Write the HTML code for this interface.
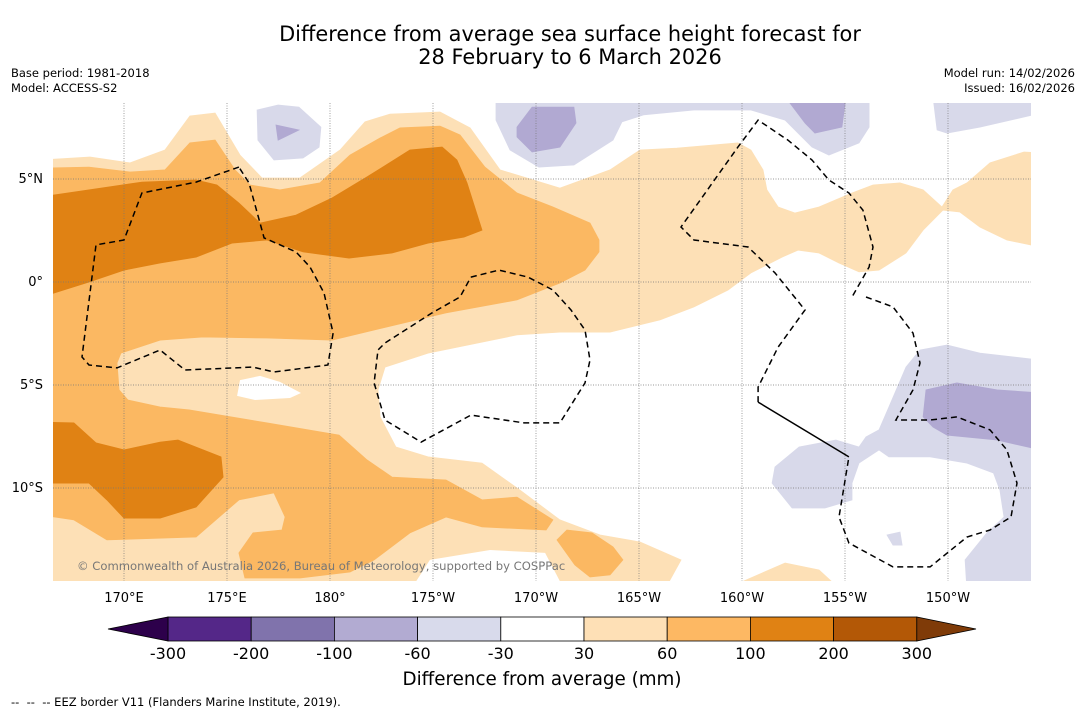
<!DOCTYPE html>
<html><head><meta charset="utf-8"><style>
body{margin:0;background:#fff;width:1085px;height:713px;overflow:hidden;font-family:"DejaVu Sans","Liberation Sans",sans-serif;}
svg{position:absolute;left:0;top:0}
</style></head><body>
<svg id="chart" width="1085" height="713" viewBox="0 0 1085 713" font-family="DejaVu Sans, Liberation Sans, sans-serif">
<defs><clipPath id="mapclip"><rect x="53" y="103" width="978" height="478"/></clipPath></defs>
<text x="570" y="41" text-anchor="middle" font-size="20.9">Difference from average sea surface height forecast for</text>
<text x="570" y="64" text-anchor="middle" font-size="20.9">28 February to 6 March 2026</text>
<text x="11" y="77" font-size="11.5">Base period: 1981-2018</text>
<text x="11" y="92" font-size="11.5">Model: ACCESS-S2</text>
<text x="1075" y="77" font-size="11.5" text-anchor="end">Model run: 14/02/2026</text>
<text x="1075" y="92" font-size="11.5" text-anchor="end">Issued: 16/02/2026</text>
<g id="map" clip-path="url(#mapclip)"></g>
<g id="axes"></g>
<g id="cbar"></g>
<text x="542" y="685" text-anchor="middle" font-size="18.3">Difference from average (mm)</text>
<text x="11" y="706" font-size="11.5" xml:space="preserve">--  --  -- EEZ border V11 (Flanders Marine Institute, 2019).</text>
</svg>
<script>
// ---- data ----
const latTicks=[5,0,-5,-10];
const latLabels=["5°N","0°","5°S","10°S"];
const lonTicks=[170,175,180,185,190,195,200,205,210];
const lonLabels=["170°E","175°E","180°","175°W","170°W","165°W","160°W","155°W","150°W"];
const cbTicks=["-300","-200","-100","-60","-30","30","60","100","200","300"];
const cbColors=["#542788","#8073ac","#b2abd2","#d8daeb","#ffffff","#fee0b6","#fdb863","#e08214","#b35806"];
const cbLow="#2d004b", cbHigh="#7f3b08";
const LO="#fde0b6",OR="#fbb862",DO="#e08214",LP="#d8d9ea",DP="#b1a9d2",WH="#ffffff";
const lightOrange=[[166,5.92],[168.35,6.07],[170.29,5.78],[171.99,6.41],[173.2,8.06],[174.42,8.2],[175.63,6.16],[176.7,5.05],[178.54,5.05],[180.49,6.41],[181.7,7.77],[182.91,8.15],[185.34,8.25],[186.8,7.48],[188.25,5.44],[191.16,4.56],[193.59,5.44],[195.05,6.41],[196.84,6.5],[199.8,6.75],[200.43,6.41],[201.02,5.44],[201.21,4.47],[201.75,3.64],[202.57,3.35],[203.74,3.64],[205.34,4.32],[206.36,4.71],[207.67,4.81],[208.79,4.47],[209.71,3.64],[210.24,4.47],[210.92,4.81],[212.04,5.78],[213.69,6.31],[214.5,6.26],[214.5,1.7],[212.86,2.04],[211.55,2.67],[210.58,3.4],[209.75,3.49],[208.79,2.52],[207.96,1.41],[206.65,0.58],[205.68,0.49],[204.71,0.92],[203.74,1.41],[202.72,1.55],[201.94,1.21],[200.43,0.44],[199.32,-0.39],[197.67,-1.21],[196.02,-1.84],[193.59,-2.43],[191.16,-2.43],[189.08,-2.57],[184.76,-3.45],[182.67,-4.13],[182.33,-5.24],[182.43,-6.55],[183.2,-8.01],[184.76,-8.49],[187.38,-8.79],[189.22,-10.1],[191.16,-11.55],[193.11,-12.28],[195.05,-12.62],[197.04,-13.49],[196.21,-15],[166,-15]];
const lightOrange2=[[198.98,-15],[202.09,-13.64],[203.74,-13.98],[204.85,-15]];
const whiteHole=[[175.63,-4.76],[176.6,-4.56],[177.57,-4.85],[178.59,-5.39],[178.06,-5.63],[176.36,-5.73],[175.49,-5.53]];
const whiteBottom=[[183.88,-15],[184.85,-13.49],[187.77,-13.01],[190.44,-13.15],[191.41,-15]];
const orange1=[[166,5.53],[168.3,5.58],[170.29,5.34],[171.99,5.44],[173.2,6.75],[174.42,6.89],[175.39,5.44],[176.12,4.71],[177.57,4.47],[179.51,4.81],[180.97,6.16],[182.43,6.99],[183.4,7.48],[185.34,7.57],[186.31,7.14],[187.52,5.58],[189.08,4.32],[190.82,3.64],[192.62,2.86],[193.06,2.04],[193.06,1.46],[192.38,0.58],[191.16,-0.05],[189.08,-0.87],[185.63,-1.5],[182.14,-2.33],[180.1,-2.82],[176.94,-2.72],[173.83,-2.67],[171.75,-2.82],[169.85,-3.45],[169.66,-3.93],[169.76,-5.24],[170.19,-5.73],[171.75,-6.07],[173.16,-6.21],[176.94,-6.84],[180.44,-7.43],[181.8,-8.64],[183.01,-9.47],[185.63,-9.61],[187.38,-10.58],[189.08,-10.44],[190.82,-11.55],[190.49,-12.04],[187.38,-11.89],[185.63,-11.41],[183.88,-12.18],[182.14,-13.49],[180.97,-14.08],[178.54,-14.37],[175.87,-14.37],[175.58,-13.15],[176.26,-12.18],[177.67,-12.04],[177.82,-11.41],[177.28,-10.24],[175.58,-10.58],[173.5,-12.38],[169.17,-12.52],[167.57,-11.55],[166,-11.31]];
const orange2=[[191.02,-12.52],[191.5,-12.04],[192.72,-12.18],[193.74,-12.86],[194.22,-13.49],[193.59,-14.22],[192.62,-14.32],[191.89,-13.74]];
const dark1=[[166,4.13],[168.3,4.47],[170.87,4.85],[173.5,4.95],[174.51,4.71],[175.58,3.83],[176.6,2.86],[178.35,3.25],[180.1,4.08],[181.8,5.1],[183.88,6.41],[185.44,6.55],[186.16,5.92],[186.65,4.81],[187.38,2.52],[186.5,2.18],[184.76,1.89],[183.01,1.41],[180.92,1.16],[178.69,1.46],[176.94,2.04],[175.24,1.89],[173.5,1.21],[171.75,0.92],[170,0.58],[168.3,0],[166,-0.73]];
const dark2=[[166,-6.8],[167.57,-6.84],[168.64,-7.81],[170,-8.15],[171.75,-7.77],[172.62,-7.67],[174.71,-8.49],[174.81,-9.47],[173.5,-10.92],[171.75,-11.46],[170,-11.46],[169.17,-10.58],[168.3,-9.76],[166,-9.76]];
const purpleA=[[176.46,8.35],[177.48,8.59],[178.49,8.49],[179.56,7.52],[179.47,6.55],[178.69,6.02],[177.28,5.92],[176.5,6.89]];
const purpleAdark=[[177.38,7.62],[178.49,7.38],[177.48,6.89]];
const purpleTop=[[188.06,9],[188.06,7.86],[188.74,6.41],[190.14,5.58],[191.84,5.68],[193.74,6.89],[194.17,7.77],[195.22,8.11],[197.67,8.35],[200.43,8.35],[202.09,7.86],[203.4,6.55],[204.22,6.16],[205.68,6.75],[206.17,7.52],[206.17,9]];
const purpleTopDark1=[[189.08,7.52],[189.81,8.49],[191.84,8.49],[191.94,7.72],[191.16,6.55],[189.81,6.31],[189.08,7.04]];
const purpleTopDark2=[[202.09,9],[205.05,9],[204.85,7.52],[203.54,7.23],[203.06,7.72]];
const purpleTopRight=[[209.27,9],[209.47,7.38],[209.95,7.23],[211.55,7.52],[214.5,8.2],[214.5,9]];
const purpleSE=[[208.64,-3.3],[209.95,-3.06],[211.55,-3.45],[214.5,-3.79],[214.5,-15],[210.92,-15],[210.83,-13.49],[211.89,-12.18],[212.72,-11.41],[212.52,-10.1],[212.21,-9.27],[210.92,-8.79],[209.13,-8.49],[207.13,-8.49],[206.65,-8.15],[205.68,-8.79],[205.34,-9.76],[205.34,-10.58],[204.03,-10.97],[202.43,-10.97],[201.46,-9.76],[201.6,-8.98],[202.77,-8.01],[204.56,-7.67],[205.68,-8.01],[206.02,-7.52],[206.65,-7.18],[207.13,-6.07],[207.96,-4.13]];
const purpleSEdark=[[208.93,-5.24],[210.43,-4.9],[212.38,-5.24],[214.5,-5.39],[214.5,-8.15],[212.38,-7.67],[209.95,-7.43],[209.27,-7.04],[208.79,-6.55]];
const purpleTiny=[[207.04,-12.28],[207.67,-12.14],[207.77,-12.77],[207.33,-12.77]];
const eezWest=[[175.58,5.58],[173.5,4.85],[170.87,4.32],[170,2.04],[168.64,1.8],[167.96,-3.64],[168.3,-4.03],[169.66,-4.17],[171.75,-3.3],[172.96,-4.27],[176.26,-4.13],[177.28,-4.37],[179.9,-4.03],[180.15,-2.48],[179.71,-0.53],[179.03,0.73],[178.35,1.46],[176.8,2.14],[176.07,4.81],[175.58,5.58]];
const eezMid=[[186.84,0.24],[188.2,0.58],[189.61,0.24],[190.82,-0.39],[191.7,-1.36],[192.38,-2.33],[192.62,-3.79],[192.38,-4.9],[191.16,-6.84],[189.42,-6.84],[186.84,-6.46],[184.42,-7.77],[182.67,-6.7],[182.14,-4.9],[182.33,-3.3],[182.67,-2.96],[184.95,-1.5],[186.31,-0.73],[186.84,0.24]];
const eezEast=[[200.78,-5.83],[200.78,-5.1],[201.75,-3.16],[203.06,-1.36],[201.6,0.44],[200.29,1.7],[197.67,2.04],[197.04,2.67],[199.8,6.55],[200.78,7.86],[202.23,6.89],[203.4,5.92],[204.22,4.95],[205.19,4.32],[205.87,3.49],[206.36,1.7],[206.17,0.73],[205.34,-0.73]];
const eezEast2=[[206.02,-0.73],[207.33,-1.21],[208.3,-2.48],[208.64,-3.93],[208.3,-5.24],[207.47,-6.7],[209.13,-6.7],[210.43,-6.55],[212.04,-7.18],[212.86,-8.15],[213.35,-9.76],[213.06,-11.41],[212.04,-12.04],[210.92,-12.38],[209.13,-13.83],[207.33,-13.83],[205.19,-12.67],[204.71,-11.41],[205.19,-8.49]];
const eezSolid=[[200.78,-5.83],[205.19,-8.49]];
// ---- axis functions ----
const PX=20.6;
const X=lon=>124+(lon-170)*PX;
const Y=lat=>282-lat*PX;
const NS="http://www.w3.org/2000/svg";
const map=document.getElementById('map');
function pts(a){return a.map(p=>X(p[0]).toFixed(1)+","+Y(p[1]).toFixed(1)).join(" ");}
function poly(parent,a,fill,name){
  const e=document.createElementNS(NS,'polygon');
  e.setAttribute('points',pts(a));e.setAttribute('fill',fill);
  e.setAttribute('stroke',fill==WH?'none':fill);e.setAttribute('stroke-width','0.8');
  
  
  parent.appendChild(e);
}
function line(parent,a,dash,name){
  const e=document.createElementNS(NS,'polyline');
  e.setAttribute('points',pts(a));e.setAttribute('fill','none');e.setAttribute('stroke','#000');
  e.setAttribute('stroke-width','1.5');if(dash)e.setAttribute('stroke-dasharray','6,4');
  
  
  parent.appendChild(e);
}
poly(map,lightOrange,LO,'contour-30-60');
poly(map,lightOrange2,LO,'contour-30-60-south');
poly(map,whiteHole,WH,'contour-neutral-hole');
poly(map,whiteBottom,WH,'contour-neutral-south');
poly(map,orange1,OR,'contour-60-100');
poly(map,orange2,OR,'contour-60-100-south');
poly(map,dark1,DO,'contour-100-200-north');
poly(map,dark2,DO,'contour-100-200-south');
poly(map,purpleA,LP,'contour-neg30-60-a');
poly(map,purpleAdark,DP,'contour-neg60-100-a');
poly(map,purpleTop,LP,'contour-neg30-60-top');
poly(map,purpleTopDark1,DP,'contour-neg60-100-top1');
poly(map,purpleTopDark2,DP,'contour-neg60-100-top2');
poly(map,purpleTopRight,LP,'contour-neg30-60-topright');
poly(map,purpleSE,LP,'contour-neg30-60-southeast');
poly(map,purpleSEdark,DP,'contour-neg60-100-southeast');
poly(map,purpleTiny,LP,'contour-neg30-60-tiny');
// gridlines
latTicks.forEach(l=>{const e=document.createElementNS(NS,'line');
  e.setAttribute('x1',53);e.setAttribute('x2',1031);e.setAttribute('y1',Y(l));e.setAttribute('y2',Y(l));
  e.setAttribute('stroke','#777');e.setAttribute('stroke-width','0.7');e.setAttribute('stroke-dasharray','1,1.5');
  
  
  map.appendChild(e);});
lonTicks.forEach(l=>{const e=document.createElementNS(NS,'line');
  e.setAttribute('y1',103);e.setAttribute('y2',581);e.setAttribute('x1',X(l));e.setAttribute('x2',X(l));
  e.setAttribute('stroke','#777');e.setAttribute('stroke-width','0.7');e.setAttribute('stroke-dasharray','1,1.5');
  
  
  map.appendChild(e);});
line(map,eezWest,true,'eez-border-west');
line(map,eezMid,true,'eez-border-middle');
line(map,eezEast,true,'eez-border-east-north');
line(map,eezEast2,true,'eez-border-east-south');
line(map,eezSolid,false,'eez-border-solid');
const cp=document.createElementNS(NS,'text');
cp.setAttribute('x',77);cp.setAttribute('y',570);cp.setAttribute('font-size','11.6');cp.setAttribute('fill','#777');
cp.textContent='© Commonwealth of Australia 2026, Bureau of Meteorology, supported by COSPPac';


map.appendChild(cp);
// axis labels
const ax=document.getElementById('axes');
latTicks.forEach((l,i)=>{const t=document.createElementNS(NS,'text');
  t.setAttribute('x',43);t.setAttribute('y',Y(l)+4);t.setAttribute('text-anchor','end');t.setAttribute('font-size','13');
  t.textContent=latLabels[i];
  
  
  ax.appendChild(t);});
lonTicks.forEach((l,i)=>{const t=document.createElementNS(NS,'text');
  t.setAttribute('x',X(l));t.setAttribute('y',602);t.setAttribute('text-anchor','middle');t.setAttribute('font-size','13');
  t.textContent=lonLabels[i];
  
  
  ax.appendChild(t);});
// colorbar
const cb=document.getElementById('cbar');
const cx0=168,cw=83.2,cy=617,ch=24;
cbColors.forEach((c,i)=>{const r=document.createElementNS(NS,'rect');
  r.setAttribute('x',cx0+i*cw);r.setAttribute('y',cy);r.setAttribute('width',cw);r.setAttribute('height',ch);
  r.setAttribute('fill',c);r.setAttribute('stroke','#000');r.setAttribute('stroke-width','0.8');
  
  
  cb.appendChild(r);});
const xEnd=cx0+cbColors.length*cw;
[[`${cx0},${cy} ${cx0},${cy+ch} 108,${cy+ch/2}`,cbLow,'colorbar-low-arrow'],[`${xEnd},${cy} ${xEnd},${cy+ch} 976,${cy+ch/2}`,cbHigh,'colorbar-high-arrow']].forEach(a=>{
  const p=document.createElementNS(NS,'polygon');p.setAttribute('points',a[0]);p.setAttribute('fill',a[1]);
  p.setAttribute('stroke','#000');p.setAttribute('stroke-width','0.8');
  
  
  cb.appendChild(p);});
cbTicks.forEach((s,i)=>{const t=document.createElementNS(NS,'text');
  t.setAttribute('x',cx0+i*cw);t.setAttribute('y',659);t.setAttribute('text-anchor','middle');t.setAttribute('font-size','16');
  t.textContent=s;
  
  
  cb.appendChild(t);});
</script>
</body></html>
